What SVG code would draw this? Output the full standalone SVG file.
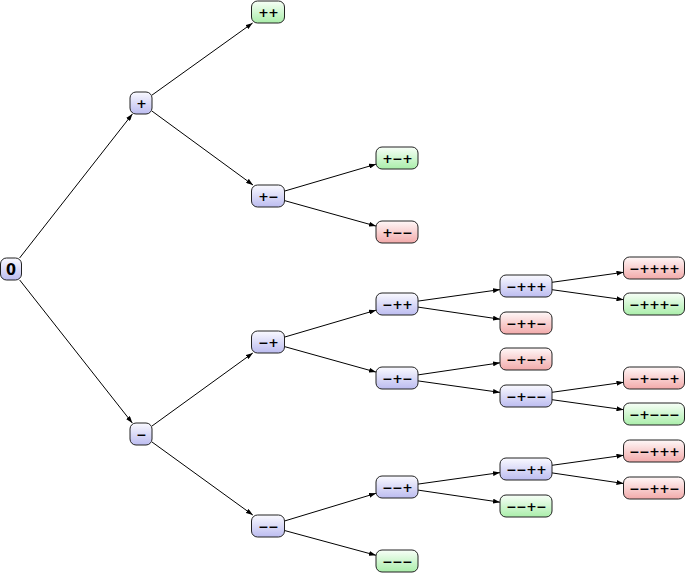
<svg xmlns="http://www.w3.org/2000/svg" width="685" height="573" viewBox="0 0 685 573">
<style>
.n rect{stroke:#222;stroke-width:1}
.b rect{fill:url(#gb)}
.g rect{fill:url(#gg)}
.r rect{fill:url(#gr)}
.n text{font-family:"DejaVu Sans",sans-serif;font-weight:bold;font-size:12.5px;letter-spacing:-0.5px;text-anchor:middle;dominant-baseline:central;fill:#000}
#n0 text{font-family:"DejaVu Sans Condensed","DejaVu Sans",sans-serif;font-size:16px;letter-spacing:0}
#edges line{stroke:#000;stroke-width:1;marker-end:url(#ah)}
</style>
<defs>
<linearGradient id="gb" x1="0" y1="0" x2="0" y2="1"><stop offset="0" stop-color="#fafaff"/><stop offset="1" stop-color="#bcbcf0"/></linearGradient>
<linearGradient id="gg" x1="0" y1="0" x2="0" y2="1"><stop offset="0" stop-color="#f8fff8"/><stop offset="1" stop-color="#aaeeaa"/></linearGradient>
<linearGradient id="gr" x1="0" y1="0" x2="0" y2="1"><stop offset="0" stop-color="#fff8f8"/><stop offset="1" stop-color="#f2aaaa"/></linearGradient>
<marker id="ah" markerWidth="7" markerHeight="5" refX="7" refY="2.5" orient="auto" markerUnits="userSpaceOnUse"><path d="M0,0 L7,2.5 L0,5 Z" fill="#000"/></marker>
</defs>
<g id="edges">
<line x1="19.6" y1="258" x2="132.4" y2="114"/>
<line x1="19.7" y1="280" x2="132.3" y2="423"/>
<line x1="152" y1="95.1" x2="252.6" y2="23"/>
<line x1="152" y1="111.1" x2="253" y2="185"/>
<line x1="152" y1="426" x2="252.8" y2="353"/>
<line x1="152" y1="442" x2="252.8" y2="515"/>
<line x1="284.5" y1="191.1" x2="376" y2="164.2"/>
<line x1="284.5" y1="200.6" x2="376" y2="226.1"/>
<line x1="284.5" y1="337.1" x2="376" y2="310.2"/>
<line x1="284.5" y1="346.6" x2="376" y2="372.1"/>
<line x1="284.5" y1="521" x2="376" y2="493.3"/>
<line x1="284.5" y1="530.5" x2="376" y2="555.3"/>
<line x1="418" y1="301.1" x2="500" y2="289.6"/>
<line x1="418" y1="307.1" x2="500" y2="319.2"/>
<line x1="418" y1="374.9" x2="500" y2="362.8"/>
<line x1="418" y1="380.9" x2="500" y2="392.4"/>
<line x1="418" y1="484.1" x2="500" y2="472.6"/>
<line x1="418" y1="490.1" x2="500" y2="502.2"/>
<line x1="552" y1="282.3" x2="623.5" y2="272.3"/>
<line x1="552" y1="289.7" x2="623.5" y2="299.7"/>
<line x1="552" y1="392.3" x2="623.5" y2="382.3"/>
<line x1="552" y1="399.7" x2="623.5" y2="409.7"/>
<line x1="552" y1="465.3" x2="623.5" y2="455.3"/>
<line x1="552" y1="472.9" x2="623.5" y2="483.5"/>
</g>
<g id="n0" class="n b"><rect x="0.5" y="258" width="21" height="22" rx="6"/><text x="11" y="269">0</text></g>
<g id="np" class="n b"><rect x="130" y="92" width="22" height="22" rx="6"/><text x="141.3" y="103">+</text></g>
<g id="nm" class="n b"><rect x="130" y="423" width="22" height="22" rx="6"/><text x="141.3" y="434">−</text></g>
<g id="npp" class="n g"><rect x="251.5" y="1" width="33" height="22" rx="6"/><text x="268.3" y="12">++</text></g>
<g id="npm" class="n b"><rect x="251.5" y="185" width="33" height="22" rx="6"/><text x="268.3" y="196">+−</text></g>
<g id="nmp" class="n b"><rect x="251.5" y="331" width="33" height="22" rx="6"/><text x="268.3" y="342">−+</text></g>
<g id="nmm" class="n b"><rect x="251.5" y="515" width="33" height="22" rx="6"/><text x="268.3" y="526">−−</text></g>
<g id="npmp" class="n g"><rect x="376" y="147" width="42" height="22" rx="6"/><text x="397.3" y="158">+−+</text></g>
<g id="npmm" class="n r"><rect x="376" y="221" width="42" height="22" rx="6"/><text x="397.3" y="232">+−−</text></g>
<g id="nmpp" class="n b"><rect x="376" y="293" width="42" height="22" rx="6"/><text x="397.3" y="304">−++</text></g>
<g id="nmpm" class="n b"><rect x="376" y="367" width="42" height="22" rx="6"/><text x="397.3" y="378">−+−</text></g>
<g id="nmmp" class="n b"><rect x="376" y="476" width="42" height="22" rx="6"/><text x="397.3" y="487">−−+</text></g>
<g id="nmmm" class="n g"><rect x="376" y="550" width="42" height="22" rx="6"/><text x="397.3" y="561">−−−</text></g>
<g id="nmppp" class="n b"><rect x="500" y="275" width="52" height="22" rx="6"/><text x="526.3" y="286">−+++</text></g>
<g id="nmppm" class="n r"><rect x="500" y="312" width="52" height="22" rx="6"/><text x="526.3" y="323">−++−</text></g>
<g id="nmpmp" class="n r"><rect x="500" y="348" width="52" height="22" rx="6"/><text x="526.3" y="359">−+−+</text></g>
<g id="nmpmm" class="n b"><rect x="500" y="385" width="52" height="22" rx="6"/><text x="526.3" y="396">−+−−</text></g>
<g id="nmmpp" class="n b"><rect x="500" y="458" width="52" height="22" rx="6"/><text x="526.3" y="469">−−++</text></g>
<g id="nmmpm" class="n g"><rect x="500" y="495" width="52" height="22" rx="6"/><text x="526.3" y="506">−−+−</text></g>
<g id="nmpppp" class="n r"><rect x="623.5" y="257" width="61" height="22" rx="6"/><text x="654.3" y="268">−++++</text></g>
<g id="nmpppm" class="n g"><rect x="623.5" y="293" width="61" height="22" rx="6"/><text x="654.3" y="304">−+++−</text></g>
<g id="nmpmmp" class="n r"><rect x="623.5" y="367" width="61" height="22" rx="6"/><text x="654.3" y="378">−+−−+</text></g>
<g id="nmpmmm" class="n g"><rect x="623.5" y="403" width="61" height="22" rx="6"/><text x="654.3" y="414">−+−−−</text></g>
<g id="nmmppp" class="n r"><rect x="623.5" y="440" width="61" height="22" rx="6"/><text x="654.3" y="451">−−+++</text></g>
<g id="nmmppm" class="n r"><rect x="623.5" y="477" width="61" height="22" rx="6"/><text x="654.3" y="488">−−++−</text></g>
</svg>
